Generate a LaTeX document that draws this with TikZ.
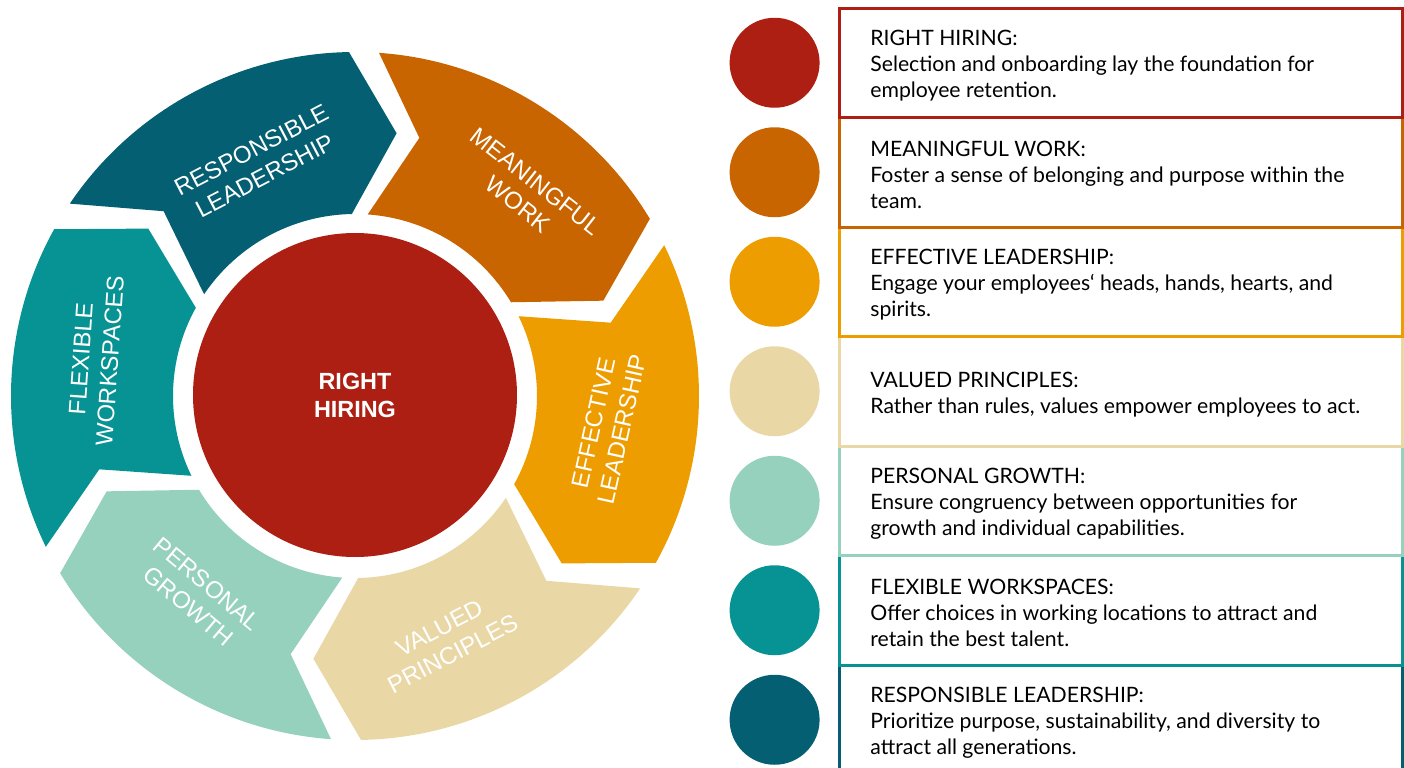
\documentclass[tikz,border=0pt]{standalone}
\usepackage{fontspec}
\setmainfont{Lato}
\setsansfont{Liberation Sans}
\usetikzlibrary{positioning}

\definecolor{hiringred}{HTML}{AC1F12}
\definecolor{workorange}{HTML}{C96500}
\definecolor{effectivegold}{HTML}{EE9D00}
\definecolor{valuedbeige}{HTML}{E9D8A6}
\definecolor{growthmint}{HTML}{96D1BD}
\definecolor{flexteal}{HTML}{079393}
\definecolor{respteal}{HTML}{035F71}

\begin{document}
\begin{tikzpicture}[
  x=0.5pt, y=0.5pt,
  font=\sffamily,
  hub/.style={circle, fill=hiringred, minimum size=162pt, text=white, align=center,
    font=\sffamily\bfseries\fontsize{11.7}{14}\selectfont},
  ringlabel/.style={text=white, align=center, font=\sffamily\fontsize{12}{14.5}\selectfont},
  item/.style={draw, line width=1.5pt, fill=white, minimum width=281.25pt, minimum height=54.75pt, inner sep=0pt},
  dot/.style={circle, minimum size=45pt, inner sep=0pt},
  desc/.style={align=left, inner sep=0pt, yshift=-1.5pt, font=\rmfamily\fontsize{10.6}{13}\selectfont}]

  \useasboundingbox (-355,-371) rectangle (1049,396);

  % Ring of arrows around the hub
  \fill[respteal] (146:344) arc[start angle=146, end angle=91, radius=344] -- (81:266) -- (91:182) arc[start angle=91, end angle=146, radius=182] -- (136:266) -- cycle;
  \fill[workorange] (86:344) arc[start angle=86, end angle=31, radius=344] -- (21:266) -- (31:182) arc[start angle=31, end angle=86, radius=182] -- (76:266) -- cycle;
  \fill[effectivegold] (26:344) arc[start angle=26, end angle=-29, radius=344] -- (-39:266) -- (-29:182) arc[start angle=-29, end angle=26, radius=182] -- (16:266) -- cycle;
  \fill[valuedbeige] (-34:344) arc[start angle=-34, end angle=-89, radius=344] -- (-99:266) -- (-89:182) arc[start angle=-89, end angle=-34, radius=182] -- (-44:266) -- cycle;
  \fill[growthmint] (-94:344) arc[start angle=-94, end angle=-149, radius=344] -- (-159:266) -- (-149:182) arc[start angle=-149, end angle=-94, radius=182] -- (-104:266) -- cycle;
  \fill[flexteal] (206:344) arc[start angle=206, end angle=151, radius=344] -- (141:266) -- (151:182) arc[start angle=151, end angle=206, radius=182] -- (196:266) -- cycle;

  \node[hub] (hiring) at (0,1) {RIGHT\\HIRING};

  \node[ringlabel, rotate=27.5] (resp) at (-97,233) {RESPONSIBLE\\LEADERSHIP};
  \node[ringlabel, rotate=-38] (work) at (172,203) {MEANINGFUL\\WORK};
  \node[ringlabel, rotate=77.5] (effective) at (253,-30) {EFFECTIVE\\LEADERSHIP};
  \node[ringlabel, rotate=27.5] (valued) at (91,-245) {VALUED\\PRINCIPLES};
  \node[ringlabel, rotate=-40] (growth) at (-157,-199) {PERSONAL\\GROWTH};
  \node[ringlabel, rotate=86] (flexible) at (-259.5,36) {FLEXIBLE\\WORKSPACES};

  % Legend, drawn bottom up so each upper border stays on top
  \node[item, draw=respteal] (box7) at (765.75,-323.75) {};
  \node[item, draw=flexteal] (box6) at (765.75,-214.25) {};
  \node[item, draw=growthmint] (box5) at (765.75,-104.75) {};
  \node[item, draw=valuedbeige] (box4) at (765.75,4.75) {};
  \node[item, draw=effectivegold] (box3) at (765.75,114.25) {};
  \node[item, draw=workorange] (box2) at (765.75,223.75) {};
  \node[item, draw=hiringred] (box1) at (765.75,333.25) {};

  \node[dot, fill=hiringred, left=9pt of box1] (dot1) {};
  \node[dot, fill=workorange, left=9pt of box2] (dot2) {};
  \node[dot, fill=effectivegold, left=9pt of box3] (dot3) {};
  \node[dot, fill=valuedbeige, left=9pt of box4] (dot4) {};
  \node[dot, fill=growthmint, left=9pt of box5] (dot5) {};
  \node[dot, fill=flexteal, left=9pt of box6] (dot6) {};
  \node[dot, fill=respteal, left=9pt of box7] (dot7) {};

  \node[desc, right=16pt of box1.west] (txt1) {RIGHT HIRING:\\Selection and onboarding lay the foundation for\\employee retention.};
  \node[desc, right=16pt of box2.west] (txt2) {MEANINGFUL WORK:\\Foster a sense of belonging and purpose within the\\team.};
  \node[desc, right=16pt of box3.west] (txt3) {EFFECTIVE LEADERSHIP:\\Engage your employees‘ heads, hands, hearts, and\\spirits.};
  \node[desc, right=16pt of box4.west] (txt4) {VALUED PRINCIPLES:\\Rather than rules, values empower employees to act.};
  \node[desc, right=16pt of box5.west] (txt5) {PERSONAL GROWTH:\\Ensure congruency between opportunities for\\growth and individual capabilities.};
  \node[desc, right=16pt of box6.west] (txt6) {FLEXIBLE WORKSPACES:\\Offer choices in working locations to attract and\\retain the best talent.};
  \node[desc, right=16pt of box7.west] (txt7) {RESPONSIBLE LEADERSHIP:\\Prioritize purpose, sustainability, and diversity to\\attract all generations.};

\end{tikzpicture}
\end{document}
